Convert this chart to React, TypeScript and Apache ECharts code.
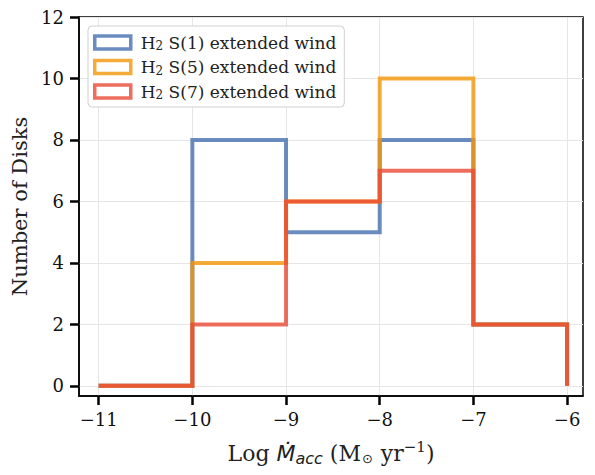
import React, { useEffect, useRef } from "react";
import * as echarts from "echarts";

const binEdges = [-11, -10, -9, -8, -7, -6];
const s1Counts = [0, 8, 5, 8, 2];
const s5Counts = [0, 4, 6, 10, 2];
const s7Counts = [0, 2, 6, 7, 2];
const xTicks = [-11, -10, -9, -8, -7, -6];
const yTicks = [0, 2, 4, 6, 8, 10, 12];
const seriesNames = ["s1", "s5", "s7"];
const seriesLabels = ["S(1)", "S(5)", "S(7)"];
const seriesColors = ["#466fae", "#f29609", "#ea4a36"];

function stepData(counts: number[]) {
  const pts: number[][] = [];
  counts.forEach((c, i) => pts.push([binEdges[i], c]));
  const last = binEdges[binEdges.length - 1];
  pts.push([last, counts[counts.length - 1]]);
  pts.push([last, 0]);
  return pts;
}

const fmtNum = (v: number) => (v < 0 ? "\u2212" + Math.abs(v) : String(v));

export default function App() {
  const ref = useRef<HTMLDivElement>(null);
  useEffect(() => {
    const chart = echarts.init(ref.current!, null, { renderer: "svg" });
    const serif = "DejaVu Serif";
    const allCounts = [s1Counts, s5Counts, s7Counts];
    chart.setOption({
      animation: false,
      backgroundColor: "#ffffff",
      grid: {
        left: 79,
        right: 12,
        top: 17,
        bottom: 79,
        show: true,
        borderColor: "#000",
        borderWidth: 1.5,
        backgroundColor: "transparent",
      },
      legend: {
        orient: "vertical",
        left: 88,
        top: 26,
        padding: [7, 8, 6, 5],
        itemGap: 5.5,
        itemWidth: 36,
        itemHeight: 13,
        icon: "rect",
        backgroundColor: "rgba(255,255,255,0.85)",
        borderColor: "#d0d0d0",
        borderWidth: 1,
        borderRadius: 4,
        data: seriesNames.map((n, i) => ({
          name: n,
          itemStyle: {
            color: "#ffffff",
            borderColor: seriesColors[i],
            borderWidth: 3.5,
            opacity: 0.8,
          },
        })),
        formatter: (name: string) => {
          const i = seriesNames.indexOf(name);
          return `{n|H}{s|2}{n| ${seriesLabels[i]} extended wind}`;
        },
        textStyle: {
          padding: [0, 0, 0, 5],
          rich: {
            n: { fontFamily: serif, fontSize: 17, color: "#222", lineHeight: 20 },
            s: { fontFamily: serif, fontSize: 12, color: "#222", lineHeight: 12, padding: [7, 0, 0, 0] },
          },
        },
      },
      xAxis: {
        type: "value",
        min: -11.21,
        max: -5.83,
        name:
          "{t|Log }{m|\u1E40}{a|acc}{t| (M}{o|\u2299}{t| yr}{u|\u22121}{t|)}",
        nameLocation: "middle",
        nameGap: 43,
        nameTextStyle: {
          rich: {
            t: { fontFamily: serif, fontSize: 22, color: "#222", lineHeight: 28 },
            m: { fontFamily: "DejaVu Sans", fontStyle: "italic", fontSize: 22, color: "#222", lineHeight: 28 },
            a: { fontFamily: "DejaVu Sans", fontStyle: "italic", fontSize: 16, color: "#222", lineHeight: 16, padding: [10, 0, 0, 0] },
            o: { fontFamily: "DejaVu Sans", fontSize: 13, color: "#222", lineHeight: 13, padding: [10, 1, 0, 1] },
            u: { fontFamily: serif, fontSize: 15, color: "#222", lineHeight: 15, padding: [0, 0, 13, 0] },
          },
        },
        axisLine: { show: true, onZero: false, lineStyle: { color: "#000", width: 1.5 } },
        axisTick: {
          show: true,
          inside: false,
          length: 9,
          lineStyle: { color: "#000", width: 2.5 },
          customValues: xTicks,
        },
        axisLabel: {
          customValues: xTicks,
          formatter: fmtNum,
          fontFamily: serif,
          fontSize: 18,
          color: "#111",
          margin: 14,
        },
        splitLine: { show: true, lineStyle: { color: "#e6e6e6", width: 1 } },
      },
      yAxis: {
        type: "value",
        min: -0.33,
        max: 12,
        name: "Number of Disks",
        nameLocation: "middle",
        nameGap: 49,
        nameTextStyle: { fontFamily: serif, fontSize: 21, color: "#222" },
        axisLine: { show: true, onZero: false, lineStyle: { color: "#000", width: 1.5 } },
        axisTick: {
          show: true,
          inside: false,
          length: 9,
          lineStyle: { color: "#000", width: 2.5 },
          customValues: yTicks,
        },
        axisLabel: {
          customValues: yTicks,
          formatter: fmtNum,
          fontFamily: serif,
          fontSize: 18,
          color: "#111",
          margin: 15,
        },
        splitLine: { show: true, lineStyle: { color: "#e6e6e6", width: 1 } },
      },
      series: seriesNames.map((n, i) => ({
        name: n,
        type: "line",
        step: "end",
        showSymbol: false,
        symbol: "none",
        data: stepData(allCounts[i]),
        itemStyle: { color: seriesColors[i] },
        lineStyle: { color: seriesColors[i], width: 4, opacity: 0.8, join: "miter" },
      })),
    });
    return () => chart.dispose();
  }, []);
  return (
    <div
      ref={ref}
      style={{ position: "fixed", left: 0, top: 0, width: 595, height: 475 }}
    />
  );
}
